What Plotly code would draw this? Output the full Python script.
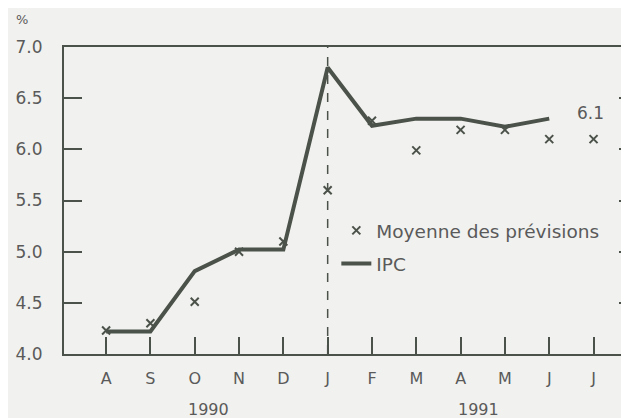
import plotly.graph_objects as go

months = ["A", "S", "O", "N", "D", "J", "F", "M", "A", "M", "J", "J"]
ipc = [4.22, 4.22, 4.81, 5.02, 5.02, 6.80, 6.23, 6.30, 6.30, 6.22, 6.30]
forecast = [4.23, 4.30, 4.51, 5.00, 5.10, 5.60, 6.28, 5.99, 6.19, 6.19, 6.10, 6.10]
years = ["1990", "1991"]
ytick_vals = [4.0, 4.5, 5.0, 5.5, 6.0, 6.5, 7.0]

idx = list(range(len(months)))
gray = "#4b5249"
txt = "#5a5a5a"
bg = "#f1f1ef"
font = "DejaVu Sans, Liberation Sans, sans-serif"

fig = go.Figure()
fig.add_trace(go.Scatter(
    x=idx, y=forecast, mode="markers", name="Moyenne des prévisions",
    legendgroup="f",
    marker=dict(symbol="x-thin", size=8, line=dict(width=2, color=gray), color=gray),
))
fig.add_trace(go.Scatter(
    x=idx[:len(ipc)], y=ipc, mode="lines", name="IPC", legendgroup="i",
    line=dict(color=gray, width=4),
))
# invisible trace for right axis
fig.add_trace(go.Scatter(x=[idx[0]], y=[ytick_vals[0]], yaxis="y2", mode="markers",
                         marker=dict(opacity=0), showlegend=False, hoverinfo="skip"))

fig.add_shape(type="line", xref="x", yref="paper", x0=5, x1=5, y0=0, y1=1,
              line=dict(color=gray, width=1.5, dash="dash"))

fig.add_annotation(x=11, y=forecast[11], xref="x", yref="y", text="6.1",
                   showarrow=False, yshift=26, xshift=-3,
                   font=dict(size=17, color=txt, family=font))
fig.add_annotation(x=2.3, y=-0.182, xref="x", yref="paper", text=years[0], showarrow=False,
                   font=dict(size=16, color=txt, family=font), yanchor="middle")
fig.add_annotation(x=8.4, y=-0.182, xref="x", yref="paper", text=years[1], showarrow=False,
                   font=dict(size=16, color=txt, family=font), yanchor="middle")
fig.add_annotation(x=-0.088, y=1.091, xref="paper", yref="paper", text="%", showarrow=False,
                   xanchor="left", yanchor="middle", font=dict(size=13, color=txt, family=font))

fig.update_layout(
    width=621, height=410,
    margin=dict(l=56, r=0, t=39, b=64),
    paper_bgcolor=bg, plot_bgcolor=bg,
    font=dict(family=font, size=16, color=txt),
    showlegend=True,
    legend=dict(x=0.482, y=0.463, xanchor="left", yanchor="top", bgcolor="rgba(0,0,0,0)",
                font=dict(size=18.5, color=txt, family=font), tracegroupgap=6,
                traceorder="grouped", itemwidth=30),
    xaxis=dict(range=[-0.95, 11.8], tickvals=idx, ticktext=months, ticks="inside",
               ticklen=17, tickwidth=2, tickcolor=gray, showline=True, linecolor=gray,
               linewidth=2, mirror=True, showgrid=False, zeroline=False,
               ticklabelstandoff=9, tickfont=dict(size=16, color=txt)),
    yaxis=dict(range=[4.0, 7.0], tickvals=ytick_vals, ticktext=[f"{v:.1f}" for v in ytick_vals],
               ticks="inside", ticklen=18, tickwidth=2, tickcolor=gray, showline=True,
               linecolor=gray, linewidth=2, showgrid=False, zeroline=False,
               ticklabelstandoff=16, tickfont=dict(size=17, color=txt)),
    yaxis2=dict(range=[4.0, 7.0], overlaying="y", side="right", tickvals=ytick_vals,
                ticks="inside", ticklen=10, tickwidth=2, tickcolor=gray, showline=True,
                linecolor=gray, linewidth=2, showticklabels=False, showgrid=False,
                zeroline=False),
)

fig.write_html("out.html")
